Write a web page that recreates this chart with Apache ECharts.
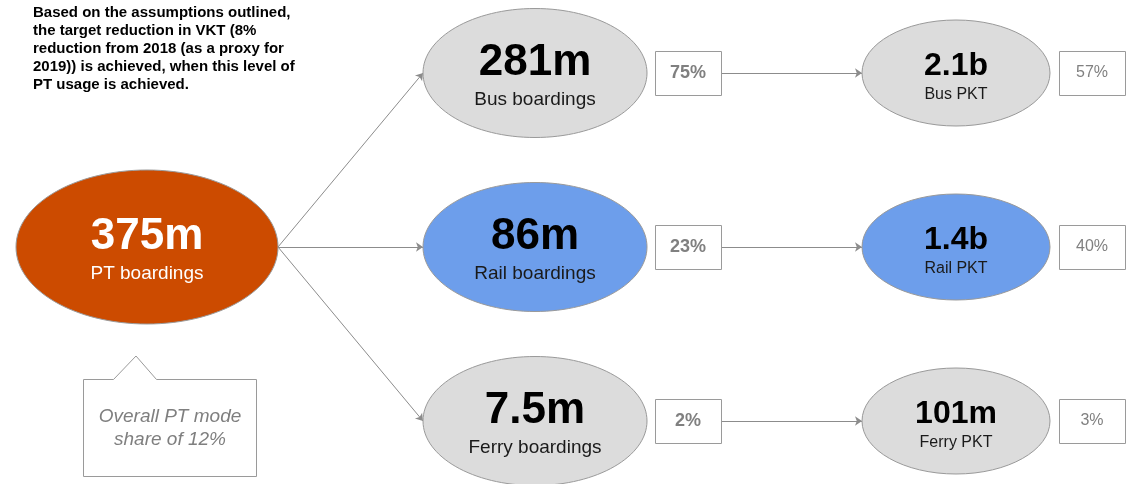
<!DOCTYPE html>
<html>
<head>
<meta charset="utf-8">
<script src="https://cdn.jsdelivr.net/npm/echarts@6/dist/echarts.min.js"></script>
<style>
  html, body { margin: 0; padding: 0; background: #ffffff; }
  #chart { width: 1131px; height: 484px; }
</style>
</head>
<body>
<div id="chart"></div>
<script>
// Public transport use needed to reach the VKT target, broken down by mode
const modes = ['Bus', 'Rail', 'Ferry'];
const totalBoardings = 375;          // millions of boardings
const boardings = [281, 86, 7.5];    // millions of boardings per mode
const boardingShare = [75, 23, 2];   // % of all boardings
const pkt = [2100, 1400, 101];       // passenger km, millions
const pktShare = [57, 40, 3];        // % of all PKT
const overallModeShare = 12;         // %
const headline = [
  'Based on the assumptions outlined,',
  'the target reduction in VKT (8%',
  'reduction from 2018 (as a proxy for',
  '2019)) is achieved, when this level of',
  'PT usage is achieved.'
];

// ---- layout (pixel space of the hidden axes) ----
const W = 1131, H = 484;
const FONT = '"Liberation Sans", Arial, Helvetica, sans-serif';
const colX = { total: 147, boarding: 535, boardShare: 688, pkt: 956, pktShare: 1092 };
const rowY = [73, 247, 421];
const ellipseSize = { total: [262, 154], boarding: [224, 129], pkt: [188, 106] };
const boxSize = [66, 44];
const fills = { total: '#cc4b00', Bus: '#dcdcdc', Rail: '#6d9eeb', Ferry: '#dcdcdc' };
const strokeGrey = '#9a9a9a';

function fmtMillions(v) {
  return v >= 1000 ? (v / 1000) + 'b' : v + 'm';
}

// ellipse nodes
const nodes = [{
  x: colX.total, y: rowY[1], size: ellipseSize.total, fill: fills.total,
  big: fmtMillions(totalBoardings), small: 'PT boardings', light: true, kind: 'large'
}];
modes.forEach(function (m, i) {
  nodes.push({
    x: colX.boarding, y: rowY[i], size: ellipseSize.boarding, fill: fills[m],
    big: fmtMillions(boardings[i]), small: m + ' boardings', kind: 'large'
  });
  nodes.push({
    x: colX.pkt, y: rowY[i], size: ellipseSize.pkt, fill: fills[m],
    big: fmtMillions(pkt[i]), small: m + ' PKT', kind: 'small'
  });
});

// share boxes
const boxes = [];
modes.forEach(function (m, i) {
  boxes.push({ x: colX.boardShare, y: rowY[i], text: boardingShare[i] + '%', bold: true });
  boxes.push({ x: colX.pktShare, y: rowY[i], text: pktShare[i] + '%', bold: false });
});

// connecting arrows
const arrows = [];
modes.forEach(function (m, i) {
  arrows.push({ coords: [
    [colX.total + ellipseSize.total[0] / 2, rowY[1]],
    [colX.boarding - ellipseSize.boarding[0] / 2, rowY[i]]
  ] });
  arrows.push({ coords: [
    [colX.boardShare + boxSize[0] / 2, rowY[i]],
    [colX.pkt - ellipseSize.pkt[0] / 2, rowY[i]]
  ] });
});

const textStyles = {
  large: { bigSize: 44, bigDy: -10.5, smallSize: 19, smallDy: 26.5 },
  small: { bigSize: 32, bigDy: -7, smallSize: 16, smallDy: 21.5 }
};

function renderEllipse(params, api) {
  const n = nodes[params.dataIndex];
  const c = api.coord([api.value(0), api.value(1)]);
  const s = api.size([n.size[0], n.size[1]]);
  const t = textStyles[n.kind];
  const ink = n.light ? '#ffffff' : '#000000';
  return {
    type: 'group',
    children: [
      { type: 'ellipse', shape: { cx: c[0], cy: c[1], rx: s[0] / 2, ry: s[1] / 2 },
        style: { fill: n.fill, stroke: strokeGrey, lineWidth: 1 } },
      { type: 'text', style: { text: n.big, x: c[0], y: c[1] + t.bigDy, align: 'center',
        verticalAlign: 'middle', font: 'bold ' + t.bigSize + 'px ' + FONT, fill: ink } },
      { type: 'text', style: { text: n.small, x: c[0], y: c[1] + t.smallDy, align: 'center',
        verticalAlign: 'middle', font: t.smallSize + 'px ' + FONT, fill: n.light ? '#ffffff' : '#1a1a1a' } }
    ]
  };
}

function renderBox(params, api) {
  const b = boxes[params.dataIndex];
  const c = api.coord([api.value(0), api.value(1)]);
  const s = api.size(boxSize);
  const x0 = Math.round(c[0] - s[0] / 2) + 0.5;
  const y0 = Math.round(c[1] - s[1] / 2) + 0.5;
  return {
    type: 'group',
    children: [
      { type: 'rect', shape: { x: x0, y: y0, width: Math.round(s[0]), height: Math.round(s[1]) },
        style: { fill: '#ffffff', stroke: strokeGrey, lineWidth: 1 } },
      { type: 'text', style: { text: b.text, x: c[0], y: c[1], align: 'center', verticalAlign: 'middle',
        font: (b.bold ? 'bold 18px ' : '16px ') + FONT, fill: '#808080' } }
    ]
  };
}

const chart = echarts.init(document.getElementById('chart'), null, { renderer: 'canvas' });

chart.setOption({
  backgroundColor: '#ffffff',
  animation: false,
  grid: { left: 0, right: 0, top: 0, bottom: 0 },
  xAxis: { type: 'value', min: 0, max: W, show: false },
  yAxis: { type: 'value', min: 0, max: H, inverse: true, show: false },
  graphic: [
    {
      type: 'text', x: 33, y: 4, silent: true,
      style: { text: headline.join('\n'), font: 'bold 15px ' + FONT, lineHeight: 18,
        fill: '#000000', align: 'left', verticalAlign: 'top' }
    },
    {
      type: 'polygon', silent: true,
      shape: { points: [[83.5, 379.5], [113.5, 379.5], [136, 356], [156.5, 379.5], [256.5, 379.5], [256.5, 476.5], [83.5, 476.5]] },
      style: { fill: '#ffffff', stroke: strokeGrey, lineWidth: 1 }
    },
    {
      type: 'text', x: 170, y: 428, silent: true,
      style: { text: 'Overall PT mode\nshare of ' + overallModeShare + '%', font: 'italic 19px ' + FONT,
        lineHeight: 23, fill: '#7f7f7f', align: 'center', verticalAlign: 'middle' }
    }
  ],
  series: [
    {
      type: 'lines',
      coordinateSystem: 'cartesian2d',
      silent: true,
      z: 1,
      symbol: ['none', 'arrow'],
      symbolSize: 7,
      lineStyle: { color: '#8c8c8c', width: 1, opacity: 1, curveness: 0 },
      data: arrows
    },
    {
      type: 'custom',
      coordinateSystem: 'cartesian2d',
      silent: true,
      clip: false,
      z: 2,
      renderItem: renderEllipse,
      data: nodes.map(function (n) { return [n.x, n.y]; })
    },
    {
      type: 'custom',
      coordinateSystem: 'cartesian2d',
      silent: true,
      clip: false,
      z: 2,
      renderItem: renderBox,
      data: boxes.map(function (b) { return [b.x, b.y]; })
    }
  ]
});
</script>
</body>
</html>
